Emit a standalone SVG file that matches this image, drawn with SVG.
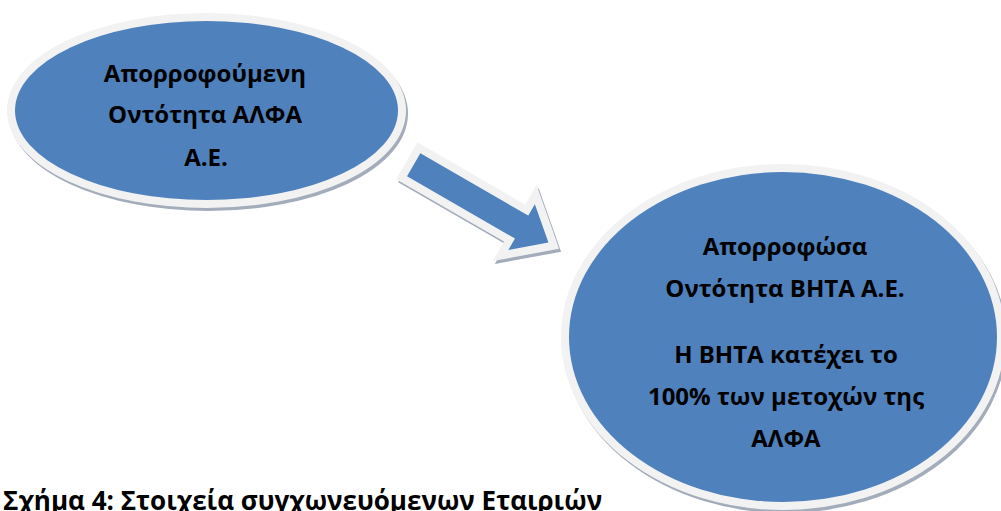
<svg xmlns="http://www.w3.org/2000/svg" width="1001" height="511" viewBox="0 0 1001 511">
<style>
.shadow{fill:#a3acba;stroke:#a3acba;stroke-width:16;stroke-linejoin:miter}
.shape{fill:#4f81bd;stroke:#f2f2f2;stroke-width:16;paint-order:stroke;stroke-linejoin:miter}
.lbl{font-family:"Open Sans","Noto Sans","DejaVu Sans",sans-serif;font-weight:bold;font-size:24px;fill:#000;text-anchor:middle}
.cap{font-family:"Open Sans","Noto Sans","DejaVu Sans",sans-serif;font-weight:bold;font-size:26px;fill:#000}
</style>
<defs>
<polygon id="arrowShape" points="0,-13.3 124.6,-13.3 124.6,-26.5 155.6,0 124.6,26.5 124.6,13.3 0,13.3"/>
</defs>
<rect width="1001" height="511" fill="#ffffff"/>
<g id="node-alfa">
<ellipse class="shadow" cx="208.5" cy="113.5" rx="191.5" ry="89.5"/>
<ellipse class="shape" cx="206.5" cy="110.5" rx="191.5" ry="89.5"/>
<text class="lbl" x="205" y="82">Απορροφούμενη</text>
<text class="lbl" x="205" y="123">Οντότητα ΑΛΦΑ</text>
<text class="lbl" x="206" y="166">Α.Ε.</text>
</g>
<g id="connectors">
<use href="#arrowShape" class="shadow" transform="translate(415.7,167.8) rotate(30)"/>
<use href="#arrowShape" class="shape" transform="translate(413.7,164.8) rotate(30)"/>
</g>
<g id="node-vita">
<ellipse class="shadow" cx="785" cy="340" rx="214" ry="165"/>
<ellipse class="shape" cx="783" cy="337" rx="214" ry="165"/>
<text class="lbl" x="785" y="255">Απορροφώσα</text>
<text class="lbl" x="785" y="297">Οντότητα ΒΗΤΑ Α.Ε.</text>
<text class="lbl" x="786" y="363">Η ΒΗΤΑ κατέχει το</text>
<text class="lbl" x="786" y="405">100% των μετοχών της</text>
<text class="lbl" x="786" y="447">ΑΛΦΑ</text>
</g>
<text class="cap" x="3" y="510">Σχήμα 4: Στοιχεία συγχωνευόμενων Εταιριών</text>
</svg>
